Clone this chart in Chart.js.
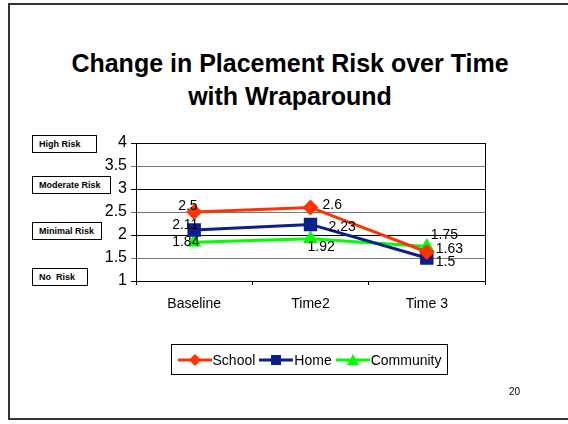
<!DOCTYPE html>
<html>
<head>
<meta charset="utf-8">
<script src="https://cdn.jsdelivr.net/npm/chart.js@4"></script>
<style>
  html, body { margin: 0; padding: 0; background: #fff; }
  #slide { position: relative; width: 568px; height: 424px; overflow: hidden; font-family: Arial, "Liberation Sans", sans-serif; }
  #frame { position: absolute; left: 8px; top: 3px; width: 600px; height: 417px; border: 2px solid #333; border-right: none; box-sizing: border-box; }
  #title { position: absolute; left: 0; top: 47px; width: 580px; text-align: center; font-weight: bold; font-size: 25px; line-height: 33px; color: #000; }
  .risk { position: absolute; left: 32px; height: 18px; border: 1px solid #000; font-size: 9px; font-weight: bold; line-height: 16px; padding: 0 0 0 6px; box-sizing: border-box; white-space: nowrap; }
  #legend { position: absolute; left: 171px; top: 344px; width: 277px; height: 31px; border: 1px solid #000; box-sizing: border-box; display: flex; align-items: center; justify-content: center; font-size: 14px; }
  #legend span.item { display: flex; align-items: center; margin: 0 2px; }
  #legend canvas { margin-right: 1px; }
  #page { position: absolute; left: 509px; top: 386px; font-size: 10px; }
  #chart { position: absolute; left: 0; top: 0; }
</style>
</head>
<body>
<div id="slide">
  <div id="frame"></div>
  <div id="title">Change in Placement Risk over Time<br>with Wraparound</div>
  <div class="risk" style="top:135px;width:65px">High Risk</div>
  <div class="risk" style="top:176px;width:79px">Moderate Risk</div>
  <div class="risk" style="top:222px;width:70px">Minimal Risk</div>
  <div class="risk" style="top:268px;width:56px">No&nbsp; Risk</div>
  <canvas id="chart" width="568" height="424"></canvas>
  <div id="legend"></div>
  <div id="page">20</div>
</div>
<script>
const categories = ['Baseline', 'Time2', 'Time 3'];
const school = [2.5, 2.6, 1.63];
const home = [2.11, 2.23, 1.5];
const community = [1.84, 1.92, 1.75];
const yTicks = [1, 1.5, 2, 2.5, 3, 3.5, 4];

// where each value label sits relative to its point (left edge, middle)
const labelOffsets = [
  [[-16, -6], [12, -2], [9, -3]],
  [[-22, -5], [18, 3], [9, 4]],
  [[-22, 0], [-3, 8], [4, -11]]
];

const valueLabels = {
  id: 'valueLabels',
  afterDatasetsDraw(chart) {
    const c = chart.ctx;
    c.save();
    c.font = '14px Arial, "Liberation Sans", sans-serif';
    c.fillStyle = '#000';
    c.textBaseline = 'middle';
    c.textAlign = 'left';
    chart.data.datasets.forEach((ds, i) => {
      chart.getDatasetMeta(i).data.forEach((pt, j) => {
        const o = labelOffsets[i][j];
        c.fillText(String(ds.data[j]), pt.x + o[0], pt.y + o[1]);
      });
    });
    c.restore();
  }
};

const chart = new Chart('chart', {
  type: 'line',
  data: {
    labels: categories,
    datasets: [
      { label: 'School', data: school, borderColor: '#ff3300', backgroundColor: '#ff3300', borderWidth: 3,
        pointStyle: 'rectRot', pointRadius: 8, pointBorderWidth: 0 },
      { label: 'Home', data: home, borderColor: '#0a1e8c', backgroundColor: '#0a1e8c', borderWidth: 3,
        pointStyle: 'rect', pointRadius: 9.5, pointBorderWidth: 0 },
      { label: 'Community', data: community, borderColor: '#00ff00', backgroundColor: '#00ff00', borderWidth: 3,
        pointStyle: 'triangle', pointRadius: 8.5, pointBorderWidth: 0 }
    ]
  },
  options: {
    responsive: false,
    animation: false,
    events: [],
    layout: { padding: { top: 143, right: 83, bottom: 113, left: 0 } },
    plugins: { legend: { display: false }, tooltip: { enabled: false } },
    scales: {
      x: {
        offset: true,
        border: { color: '#000', width: 1 },
        grid: { offset: true, drawOnChartArea: false, color: '#000', tickLength: 4 },
        ticks: { color: '#000', padding: 11, font: { family: 'Arial', size: 14 } },
        afterFit(s) { s.height = 30; }
      },
      y: {
        min: 1, max: 4,
        afterBuildTicks(s) { s.ticks = yTicks.map(v => ({ value: v })); },
        border: { color: '#000', width: 1 },
        grid: { color: ctx => (ctx.tick && ctx.tick.value % 1 === 0) ? '#000' : '#777', tickLength: 5, lineWidth: 1 },
        ticks: { color: '#000', padding: 4, font: { family: 'Arial', size: 16 }, callback: v => String(v) },
        afterFit(s) { s.width = 136; }
      }
    }
  },
  plugins: [valueLabels, {
    id: 'plotFrame',
    afterDraw(chart) {
      const a = chart.chartArea, c = chart.ctx;
      c.save();
      c.strokeStyle = '#000';
      c.lineWidth = 1;
      c.beginPath();
      c.moveTo(a.right + 0.5, a.top);
      c.lineTo(a.right + 0.5, a.bottom);
      c.stroke();
      c.restore();
    }
  }]
});

// legend built from the datasets
const legend = document.getElementById('legend');
chart.data.datasets.forEach(ds => {
  const item = document.createElement('span');
  item.className = 'item';
  const cv = document.createElement('canvas');
  cv.width = 34; cv.height = 14;
  const g = cv.getContext('2d');
  g.strokeStyle = ds.borderColor; g.lineWidth = 3;
  g.beginPath(); g.moveTo(0, 7); g.lineTo(34, 7); g.stroke();
  g.fillStyle = ds.backgroundColor;
  g.beginPath();
  if (ds.pointStyle === 'rectRot') { g.moveTo(17, 1); g.lineTo(23, 7); g.lineTo(17, 13); g.lineTo(11, 7); }
  else if (ds.pointStyle === 'rect') { g.rect(12, 2, 10, 10); }
  else { g.moveTo(17, 1); g.lineTo(23, 12); g.lineTo(11, 12); }
  g.closePath(); g.fill();
  item.appendChild(cv);
  item.appendChild(document.createTextNode(ds.label));
  legend.appendChild(item);
});
</script>
</body>
</html>
